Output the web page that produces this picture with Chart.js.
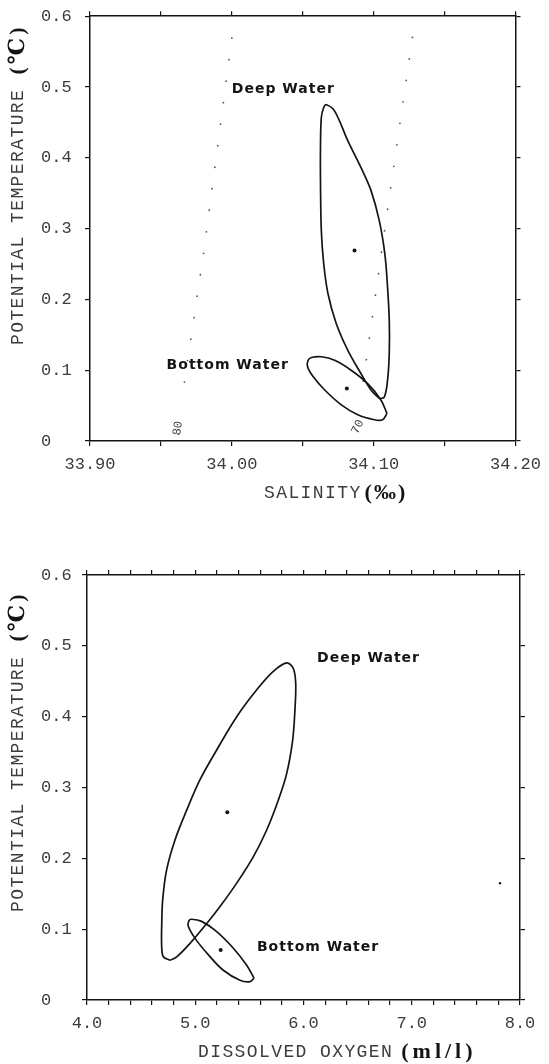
<!DOCTYPE html>
<html>
<head>
<meta charset="utf-8">
<script src="https://cdn.jsdelivr.net/npm/chart.js@4.4.1/dist/chart.umd.min.js"></script>
<style>
    body { margin: 0; background: #fff; }
    canvas { display: block; }
</style>
</head>
<body>
<canvas id="salinity-chart" width="549" height="532"></canvas>
<canvas id="oxygen-chart" width="549" height="532"></canvas>
<script>
// salinity (per mil) vs potential temperature (C)
const salinityDeep = [
    [34.1040, 0.060], [34.0981, 0.072], [34.0911, 0.095], [34.0818, 0.128], [34.0736, 0.166],
    [34.0678, 0.208], [34.0648, 0.250], [34.0631, 0.297], [34.0625, 0.368], [34.0625, 0.414],
    [34.0631, 0.457], [34.0648, 0.471], [34.0667, 0.475], [34.0725, 0.466], [34.0818, 0.424],
    [34.0911, 0.386], [34.0981, 0.354], [34.1040, 0.311], [34.1079, 0.264], [34.1098, 0.217],
    [34.1110, 0.170], [34.1110, 0.124], [34.1098, 0.086], [34.1075, 0.062], [34.1040, 0.060]
];
const salinityBottom = [
    [34.1094, 0.039], [34.1063, 0.030], [34.1005, 0.030], [34.0888, 0.037], [34.0772, 0.051],
    [34.0655, 0.072], [34.0573, 0.091], [34.0534, 0.105], [34.0538, 0.114], [34.0562, 0.118],
    [34.0631, 0.119], [34.0725, 0.114], [34.0841, 0.100], [34.0958, 0.081], [34.1051, 0.058],
    [34.1094, 0.039]
];
const salinityCenters = [[34.0865, 0.269], [34.0811, 0.074]];
const isoline80 = [[34.000, 0.569], [33.9804, 0.270], [33.9647, 0.058]];
const isoline70 = [[34.1273, 0.570], [34.1090, 0.316], [34.0911, 0.062]];

// dissolved oxygen (ml/l) vs potential temperature (C)
const oxygenDeep = [
    [4.767, 0.056], [4.705, 0.061], [4.690, 0.075], [4.690, 0.104], [4.699, 0.141],
    [4.736, 0.184], [4.813, 0.226], [4.921, 0.268], [5.044, 0.311], [5.198, 0.353],
    [5.383, 0.400], [5.568, 0.438], [5.721, 0.464], [5.845, 0.476], [5.906, 0.468],
    [5.928, 0.447], [5.921, 0.410], [5.900, 0.367], [5.845, 0.320], [5.767, 0.282],
    [5.660, 0.240], [5.536, 0.202], [5.383, 0.165], [5.229, 0.132], [5.106, 0.108],
    [4.952, 0.080], [4.829, 0.061], [4.767, 0.056]
];
const oxygenBottom = [
    [5.543, 0.031], [5.506, 0.026], [5.413, 0.028], [5.259, 0.042], [5.120, 0.064],
    [4.998, 0.087], [4.936, 0.104], [4.942, 0.112], [4.967, 0.114], [5.059, 0.111],
    [5.198, 0.0965], [5.352, 0.073], [5.475, 0.049], [5.543, 0.031]
];
const oxygenCenters = [[5.296, 0.265], [5.235, 0.0706]];
const oxygenStray = [[7.815, 0.165]];

const tempRange = [0, 0.6];
const salinityRange = [33.90, 34.20];
const oxygenRange = [4.0, 8.0];

const inkColor = '#141414';
const grayInk = '#3c3c3c';
const tickFont = { family: "'Liberation Mono', 'DejaVu Sans Mono', monospace", size: 17 };
const plainTitleFont = "18px 'Liberation Mono', 'DejaVu Sans Mono', monospace";
const boldUnitFont = "bold 22px 'Liberation Serif', 'DejaVu Serif', serif";
const noteFont = "bold 14px 'DejaVu Sans', sans-serif";

function toPoints(pairs) {
    return pairs.map(p => ({ x: p[0], y: p[1] }));
}

function outline(pairs) {
    return {
        data: toPoints(pairs),
        showLine: true,
        borderColor: inkColor,
        borderWidth: 1.7,
        pointRadius: 0,
        tension: 0.35,
        fill: false
    };
}

function dottedLine(pairs) {
    return {
        data: toPoints(pairs),
        showLine: true,
        borderColor: '#555',
        borderWidth: 1.8,
        borderDash: [0, 21.7],
        borderCapStyle: 'round',
        pointRadius: 0,
        fill: false
    };
}

function markers(pairs, radius) {
    return {
        data: toPoints(pairs),
        showLine: false,
        pointRadius: radius,
        pointStyle: 'circle',
        backgroundColor: inkColor,
        borderColor: inkColor,
        borderWidth: 0
    };
}

function isMajor(value, step) {
    const k = value / step;
    return Math.abs(k - Math.round(k)) < 1e-6;
}

function makeScales(cfg) {
    const grid = { drawOnChartArea: false, drawTicks: true, tickLength: 5, color: inkColor, lineWidth: 1.2 };
    const border = { display: true, color: inkColor, width: 1.5 };
    const hidden = { display: false, autoSkip: false };
    return {
        x: {
            type: 'linear', position: 'bottom', min: cfg.xRange[0], max: cfg.xRange[1],
            grid: grid, border: border,
            ticks: {
                stepSize: cfg.xStep, autoSkip: false, maxRotation: 0, padding: 8,
                color: grayInk, font: tickFont, callback: cfg.xLabel
            },
            afterFit: s => { s.height = cfg.bottom; }
        },
        xTop: {
            type: 'linear', position: 'top', min: cfg.xRange[0], max: cfg.xRange[1],
            grid: grid, border: border,
            ticks: Object.assign({ stepSize: cfg.xStep }, hidden),
            afterFit: s => { s.height = cfg.top; }
        },
        y: {
            type: 'linear', position: 'left', min: tempRange[0], max: tempRange[1],
            grid: grid, border: border,
            ticks: {
                stepSize: 0.1, autoSkip: false, crossAlign: 'far', padding: 6,
                color: grayInk, font: tickFont,
                callback: v => (v === 0 ? '0' : v.toFixed(1))
            },
            afterFit: s => { s.width = cfg.left; }
        },
        yRight: {
            type: 'linear', position: 'right', min: tempRange[0], max: tempRange[1],
            grid: grid, border: border,
            ticks: Object.assign({ stepSize: 0.1 }, hidden),
            afterFit: s => { s.width = cfg.right; }
        }
    };
}

function drawTitle(ctx, t, angle) {
    ctx.save();
    ctx.translate(t.px, t.py);
    ctx.rotate(angle);
    ctx.textAlign = 'left';
    ctx.textBaseline = 'middle';
    ctx.font = plainTitleFont;
    ctx.letterSpacing = '1.4px';
    ctx.fillStyle = grayInk;
    ctx.fillText(t.text, 0, 0);
    const w = ctx.measureText(t.text).width;
    ctx.font = boldUnitFont;
    ctx.letterSpacing = t.unitSpacing;
    ctx.fillStyle = inkColor;
    ctx.fillText(t.unit, w + t.gap, 0);
    ctx.restore();
}

function annotate(cfg) {
    return {
        id: 'annotate',
        afterDraw(chart) {
            const ctx = chart.ctx;
            const xs = chart.scales.x;
            const ys = chart.scales.y;
            cfg.notes.forEach(n => {
                ctx.save();
                ctx.translate(xs.getPixelForValue(n.x), ys.getPixelForValue(n.y));
                ctx.rotate((n.angle || 0) * Math.PI / 180);
                ctx.font = n.font;
                ctx.letterSpacing = n.spacing || '0px';
                ctx.fillStyle = n.color || inkColor;
                ctx.textAlign = n.align || 'left';
                ctx.textBaseline = 'middle';
                ctx.fillText(n.text, 0, 0);
                ctx.restore();
            });
            drawTitle(ctx, cfg.xTitle, 0);
            drawTitle(ctx, cfg.yTitle, -Math.PI / 2);
        }
    };
}

function baseOptions(scales) {
    return {
        responsive: false,
        animation: false,
        layout: { padding: { left: 41, top: 0, right: 0, bottom: 0 } },
        plugins: { legend: { display: false }, tooltip: { enabled: false } },
        scales: scales
    };
}

function plotSalinity() {
    const ctx = document.getElementById('salinity-chart').getContext('2d');
    new Chart(ctx, {
        type: 'scatter',
        data: {
            datasets: [
                outline(salinityDeep),
                outline(salinityBottom),
                dottedLine(isoline80),
                dottedLine(isoline70),
                markers(salinityCenters, 2)
            ]
        },
        options: baseOptions(makeScales({
            xRange: salinityRange, xStep: 0.05,
            xLabel: v => (isMajor(v, 0.1) ? v.toFixed(2) : ''),
            left: 49, right: 30, top: 14, bottom: 91
        })),
        plugins: [annotate({
            notes: [
                { text: 'Deep Water', x: 34.000, y: 0.497, font: noteFont, spacing: '1px' },
                { text: 'Bottom Water', x: 33.954, y: 0.107, font: noteFont, spacing: '1px' },
                { text: '80', x: 33.9619, y: 0.018, angle: -82, align: 'center',
                  font: "12px 'Liberation Mono', monospace", color: '#444' },
                { text: '70', x: 34.0888, y: 0.020, angle: -65, align: 'center',
                  font: "12px 'Liberation Mono', monospace", color: '#444' }
            ],
            xTitle: { text: 'SALINITY', unit: '(‰)', px: 264, py: 493, gap: 3, unitSpacing: '2px' },
            yTitle: { text: 'POTENTIAL TEMPERATURE ', unit: '(℃)', px: 18, py: 345, gap: 2, unitSpacing: '3px' }
        })]
    });
}

function plotOxygen() {
    const ctx = document.getElementById('oxygen-chart').getContext('2d');
    new Chart(ctx, {
        type: 'scatter',
        data: {
            datasets: [
                outline(oxygenDeep),
                outline(oxygenBottom),
                markers(oxygenCenters, 2),
                markers(oxygenStray, 1.2)
            ]
        },
        options: baseOptions(makeScales({
            xRange: oxygenRange, xStep: 0.2,
            xLabel: v => (isMajor(v, 1) ? v.toFixed(1) : ''),
            left: 46, right: 29, top: 43, bottom: 64
        })),
        plugins: [annotate({
            notes: [
                { text: 'Deep Water', x: 6.125, y: 0.483, font: noteFont, spacing: '1px' },
                { text: 'Bottom Water', x: 5.570, y: 0.075, font: noteFont, spacing: '1px' }
            ],
            xTitle: { text: 'DISSOLVED OXYGEN', unit: '(ml/l)', px: 198, py: 520, gap: 8, unitSpacing: '4px' },
            yTitle: { text: 'POTENTIAL TEMPERATURE ', unit: '(℃)', px: 18, py: 380, gap: 2, unitSpacing: '3px' }
        })]
    });
}

document.addEventListener('DOMContentLoaded', function () {
    plotSalinity();
    plotOxygen();
});
</script>
</body>
</html>
